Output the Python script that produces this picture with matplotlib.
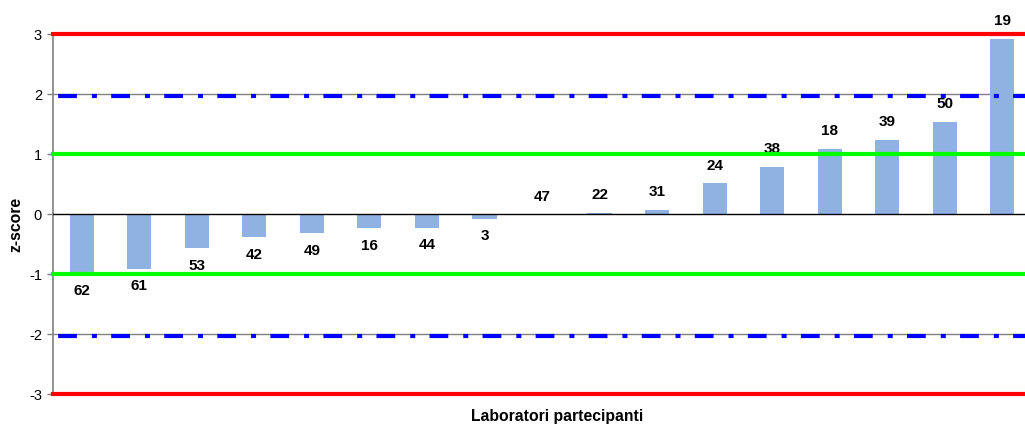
import matplotlib
matplotlib.use("Agg")
import matplotlib.pyplot as plt

plt.rcParams['font.family'] = ['Liberation Sans', 'DejaVu Sans']
plt.rcParams['lines.scale_dashes'] = False

labs = ["62", "61", "53", "42", "49", "16", "44", "3", "47", "22", "31",
        "24", "38", "18", "39", "50", "19"]
zscores = [-0.99, -0.91, -0.57, -0.39, -0.32, -0.24, -0.23, -0.08, 0.0, 0.02,
           0.07, 0.51, 0.79, 1.09, 1.24, 1.54, 2.92]
yticks = [-3, -2, -1, 0, 1, 2, 3]
limits_warn = [-2, 2]
limits_ok = [-1, 1]
limits_act = [-3, 3]

fig = plt.figure(figsize=(10.25, 4.25), dpi=100)
ax = fig.add_axes([53/1025, 31/425, 978/1025, 360/425])

x = list(range(len(labs)))
ax.set_xlim(-0.5, len(labs) - 0.5)
ax.set_ylim(-3, 3)

# gridlines
for t in yticks:
    if t != 0:
        ax.axhline(t, color='#808080', lw=1.0, zorder=0)
ax.axhline(0, color='black', lw=1.0, zorder=3)

ax.bar(x, zscores, width=0.42, color='#8FB2E2', zorder=2)

for v in limits_act:
    ax.axhline(v, color='#FF0000', lw=3.0, zorder=4, clip_on=False)
for v in limits_ok:
    ax.axhline(v, color='#00FF00', lw=3.0, zorder=4, clip_on=False)
for v in limits_warn:
    ln = ax.axhline(v - 0.04, color='#0000FF', lw=3.0, zorder=4, clip_on=False)
    ln.set_linestyle((34.5, (13.5, 10.8, 3.6, 10.3)))

for xi, v, l in zip(x, zscores, labs):
    off = 12.5 if v >= 0 else -12.5
    ax.annotate(l, (xi, v), xytext=(0, off), textcoords='offset points',
                ha='center', va='center', fontsize=11, fontweight='bold')

ax.set_yticks(yticks)
ax.set_yticklabels([str(t) for t in yticks], fontsize=10.5)
ax.set_xticks([])
for s in ['top', 'right', 'bottom']:
    ax.spines[s].set_visible(False)
ax.spines['left'].set_color('#808080')
ax.spines['left'].set_linewidth(1.2)
ax.tick_params(axis='y', length=4, width=1, color='#808080', pad=4)

fig.text(16/1025, 1 - 224/425, 'z-score', rotation=90, ha='center',
         va='center', fontsize=11.3, fontweight='bold')
fig.text(557/1025, 1 - 416/425, 'Laboratori partecipanti', ha='center',
         va='center', fontsize=11.3, fontweight='bold')

fig.savefig('out.png', dpi=100)
